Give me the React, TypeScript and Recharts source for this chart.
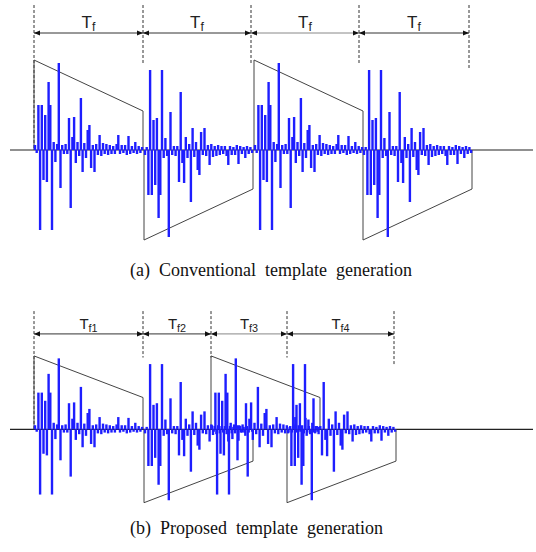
import React from 'react';
import { ComposedChart, XAxis, YAxis, Scatter, Line, ReferenceLine } from 'recharts';

// one burst of stems (value up = positive)
const burst = [
  5, -3, 45, -80, 45, -30, 35, -32, 68, 45, -80, 8, -12, 6, 87, -38,
  5, -4, 6, -4, 32, -58, 13, 33, -13, 8, -6, 52, -22, 7, -8, 20,
  25, -18, 5, -22, 6, -5, 15, -6, 7, -4, 6, -5, 5, -4, 4, -4,
  6, 15, -4, 5, -3, 5, -5, 14, -4, 4, -3, 8, -4, 4, -3, 3,
];
const signs = [1, -1, 1, -1];
const envelope = [90, 39];

const startsA = [34, 144, 254, 363];
const boundsA = [34, 143, 251, 359, 469];
const dashEndsA = [0, 87, 87, 87, 82];
const subsA = ['f', 'f', 'f', 'f'];

const startsB = [34, 144, 211, 287];
const boundsB = [34, 143, 211, 287, 394];
const dashEndsB = [0, 88, 88, 88, 79];
const subsB = ['f1', 'f2', 'f3', 'f4'];

const captions = ['(a)  Conventional  template  generation', '(b)  Proposed  template  generation'];

const Y_MIN = -110;
const Y_MAX = 150;
const STEP = 1.7;
const TRAP_LEN = 109;
const ARROW_Y = 117;
const DASH_TOP = 145;
const BLUE = '#1e1eff';

const Arrow = ({ x1, y1, x2, y2, sub, fontSize, color }: any) => {
  const h = 6;
  const w = 2.6;
  return (
    <g>
      <line x1={x1} y1={y1} x2={x2} y2={y2} stroke={color} strokeWidth={1} />
      <polygon points={`${x1},${y1} ${x1 + h},${y1 - w} ${x1 + h},${y1 + w}`} fill="#111" />
      <polygon points={`${x2},${y2} ${x2 - h},${y2 - w} ${x2 - h},${y2 + w}`} fill="#111" />
      <text
        x={(x1 + x2) / 2}
        y={y1 - 5}
        textAnchor="middle"
        fontFamily="'Liberation Sans', Arial, sans-serif"
        fontSize={fontSize}
        fill="#222"
      >
        <tspan>T</tspan>
        <tspan fontSize={fontSize * 0.72} dy={3}>{sub}</tspan>
      </text>
    </g>
  );
};

const Panel = ({ top, height, starts, bounds, dashEnds, subs, fontSize }: any) => {
  const zeroY = (height * Y_MAX) / (Y_MAX - Y_MIN);
  const stems = starts.flatMap((s: number, k: number) =>
    burst.map((v, i) => ({ x: s + 1 + i * STEP, y: signs[k] * v }))
  );
  const traps = starts.map((s: number, k: number) => [
    { x: s, y: 0 },
    { x: s, y: signs[k] * envelope[0] },
    { x: s + TRAP_LEN, y: signs[k] * envelope[1] },
    { x: s + TRAP_LEN, y: 0 },
  ]);

  return (
    <div style={{ position: 'absolute', left: 0, top }}>
      <ComposedChart width={536} height={height} margin={{ top: 0, right: 3, bottom: 0, left: 10 }}>
        <XAxis type="number" dataKey="x" domain={[10, 533]} hide allowDataOverflow />
        <YAxis type="number" domain={[Y_MIN, Y_MAX]} hide allowDataOverflow />
        <ReferenceLine y={0} stroke="#222" strokeWidth={1.2} />
        {bounds.map((b: number, i: number) => (
          <ReferenceLine
            key={'d' + i}
            segment={[{ x: b, y: DASH_TOP }, { x: b, y: dashEnds[i] }]}
            stroke="#333"
            strokeDasharray="3 2"
          />
        ))}
        {subs.map((sub: string, i: number) => (
          <ReferenceLine
            key={'a' + i}
            segment={[{ x: bounds[i], y: ARROW_Y }, { x: bounds[i + 1], y: ARROW_Y }]}
            shape={(p: any) => (
              <Arrow {...p} sub={sub} fontSize={fontSize} color={i === 2 ? '#888' : '#333'} />
            )}
          />
        ))}
        <Scatter
          data={stems}
          dataKey="y"
          isAnimationActive={false}
          shape={(p: any) => (
            <rect
              x={p.cx - 1.2}
              y={Math.min(p.cy, zeroY)}
              width={2.4}
              height={Math.abs(p.cy - zeroY)}
              fill={BLUE}
            />
          )}
        />
        {traps.map((t: any, k: number) => (
          <Line
            key={'t' + k}
            data={t}
            dataKey="y"
            type="linear"
            stroke="#444"
            strokeWidth={1}
            dot={false}
            isAnimationActive={false}
          />
        ))}
      </ComposedChart>
    </div>
  );
};

const captionStyle: React.CSSProperties = {
  position: 'absolute',
  left: 130,
  fontFamily: "'Liberation Serif', 'Times New Roman', serif",
  fontSize: 18,
  lineHeight: '20px',
  color: '#111',
  whiteSpace: 'pre',
};

export default function App() {
  return (
    <div style={{ position: 'absolute', left: 0, top: 0, width: 536, height: 552, background: '#fff' }}>
      <Panel top={0} height={260} starts={startsA} bounds={boundsA} dashEnds={dashEndsA} subs={subsA} fontSize={17} />
      <div style={{ ...captionStyle, top: 260 }}>{captions[0]}</div>
      <Panel top={307} height={212} starts={startsB} bounds={boundsB} dashEnds={dashEndsB} subs={subsB} fontSize={15} />
      <div style={{ ...captionStyle, top: 518 }}>{captions[1]}</div>
    </div>
  );
}
